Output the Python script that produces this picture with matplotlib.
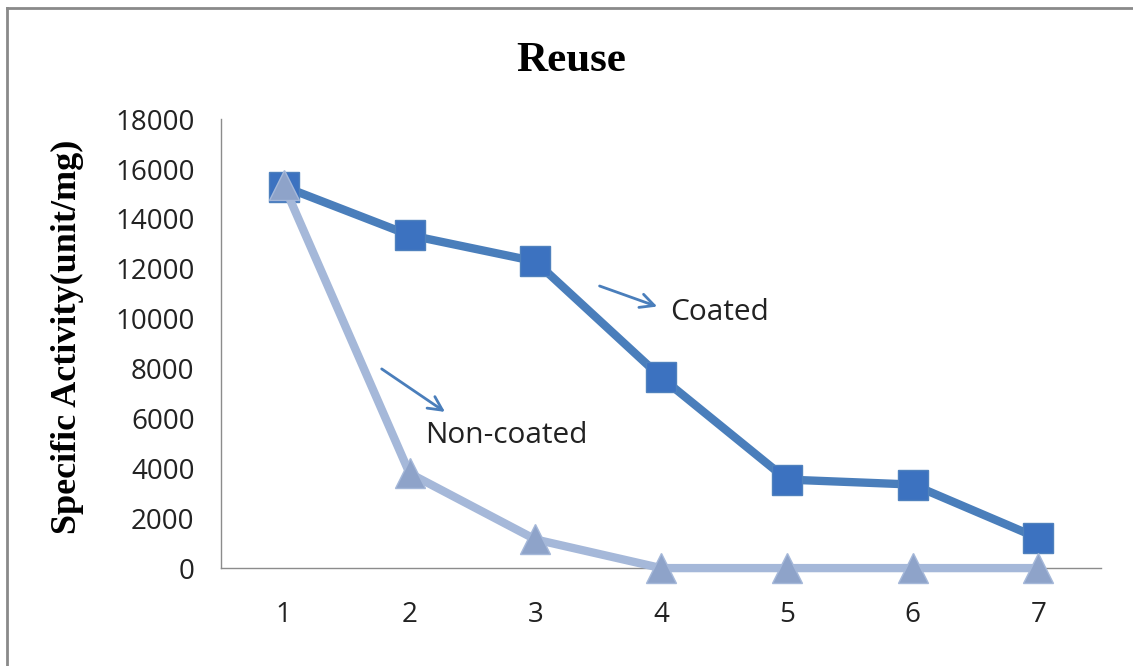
import matplotlib
matplotlib.use("Agg")
import matplotlib.pyplot as plt
from matplotlib.lines import Line2D

cycles = [1, 2, 3, 4, 5, 6, 7]
coated = [15300, 13350, 12300, 7650, 3550, 3350, 1200]
non_coated = [15350, 3800, 1150, 0, 0, 0, 0]
y_ticks = [0, 2000, 4000, 6000, 8000, 10000, 12000, 14000, 16000, 18000]

tick_font = "Open Sans"
serif = "Liberation Serif"

fig = plt.figure(figsize=(11.33, 6.66), dpi=100)
ax = fig.add_axes([0.195, 0.147, 0.777, 0.674])

ax.plot(cycles, coated, color="#4a7ebb", lw=6, marker="s", ms=21,
        mfc="#3c72c0", mec="#4f81bd", mew=1, zorder=3, clip_on=False)
ax.plot(cycles, non_coated, color="#a5b8d9", lw=6, marker="^", ms=22,
        mfc="#8ea3c9", mec="#a5b8d9", mew=1, zorder=4, clip_on=False)

ax.set_xlim(0.5, 7.5)
ax.set_ylim(0, 18000)
ax.set_xticks(cycles)
ax.set_yticks(y_ticks)
ax.tick_params(length=0, labelsize=20, colors="#222222")
ax.tick_params(axis="y", pad=19)
ax.tick_params(axis="x", pad=24)
for lab in ax.get_xticklabels() + ax.get_yticklabels():
    lab.set_fontfamily(tick_font)

for s in ["top", "right"]:
    ax.spines[s].set_visible(False)
for s in ["left", "bottom"]:
    ax.spines[s].set_color("#8c8c8c")
    ax.spines[s].set_linewidth(1)

fig.text(0.504, 0.908, "Reuse", ha="center", va="center",
         fontsize=31, fontweight="bold", family=serif)
fig.text(0.06, 0.495, "Specific Activity(unit/mg)", ha="center", va="center",
         rotation=90, fontsize=26, fontweight="bold", family=serif)

arrow = dict(arrowstyle="->", color="#4a7ebb", lw=2, mutation_scale=25)
ax.annotate("", xy=(3.99, 10450), xytext=(3.49, 11350), arrowprops=arrow)
ax.text(4.07, 10250, "Coated", fontsize=21.5, family=tick_font, va="center",
        color="#222222")
ax.annotate("", xy=(2.30, 6200), xytext=(1.76, 8050), arrowprops=arrow)
ax.text(2.12, 5300, "Non-coated", fontsize=21.5, family=tick_font, va="center",
        color="#222222")

# outer frame (left and top edges only visible)
fig.add_artist(Line2D([7 / 1133, 7 / 1133], [0, 1 - 8 / 666],
                      color="#8a8a8a", lw=2, transform=fig.transFigure))
fig.add_artist(Line2D([7 / 1133, 1], [1 - 8 / 666, 1 - 8 / 666],
                      color="#8a8a8a", lw=2, transform=fig.transFigure))

fig.savefig("out.png", dpi=100)
